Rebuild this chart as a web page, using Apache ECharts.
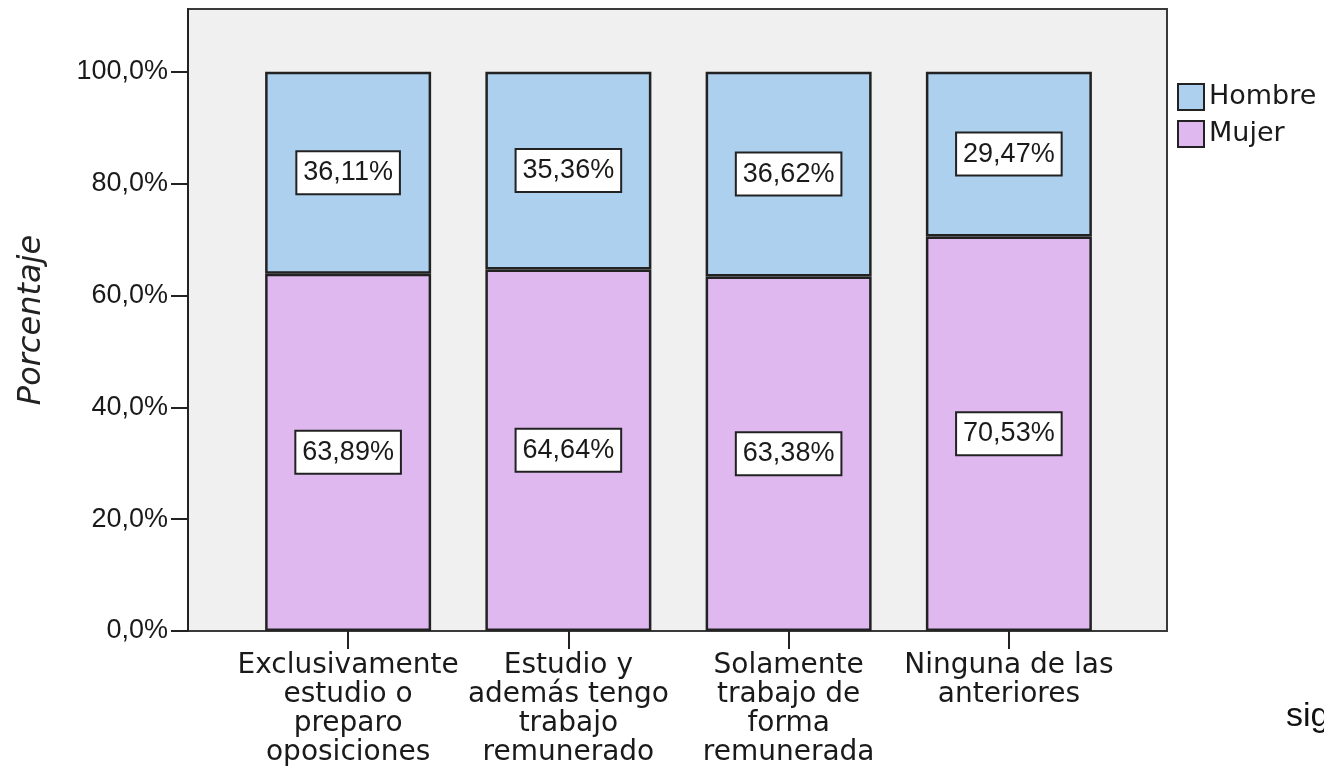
<!DOCTYPE html>
<html>
<head>
<meta charset="utf-8">
<script src="https://cdn.jsdelivr.net/npm/echarts@6/dist/echarts.min.js"></script>
<style>
  html, body { margin: 0; padding: 0; background: #fff; }
  #chart { width: 1324px; height: 774px; }
</style>
</head>
<body>
<div id="chart"></div>
<script>
// categories and series values
const categories = [
  'Exclusivamente\nestudio o\npreparo\noposiciones',
  'Estudio y\nademás tengo\ntrabajo\nremunerado',
  'Solamente\ntrabajo de\nforma\nremunerada',
  'Ninguna de las\nanteriores'
];
const mujer = [63.89, 64.64, 63.38, 70.53];
const hombre = [36.11, 35.36, 36.62, 29.47];
const yTicks = [0, 20, 40, 60, 80, 100];

const numFont = 'Liberation Sans';
const wordFont = 'DejaVu Sans';
const ink = '#1a1a1a';

const pct2 = v => v.toFixed(2).replace('.', ',') + '%';
const pct1 = v => v.toFixed(1).replace('.', ',') + '%';

const segLabel = {
  show: true,
  position: 'inside',
  formatter: p => pct2(p.value),
  fontFamily: numFont,
  fontSize: 27,
  color: ink,
  backgroundColor: '#fff',
  borderColor: '#222',
  borderWidth: 2,
  padding: [6, 6, 5, 6],
  lineHeight: 30
};

const chart = echarts.init(document.getElementById('chart'));
chart.setOption({
  animation: false,
  textStyle: { fontFamily: wordFont, color: ink },
  legend: {
    data: ['Hombre', 'Mujer'],
    orient: 'vertical',
    left: 1172,
    top: 78,
    itemWidth: 26,
    itemHeight: 26,
    itemGap: 9,
    icon: 'rect',
    textStyle: { fontFamily: wordFont, fontSize: 27, color: ink, padding: [0, 0, 0, 0] }
  },
  grid: [
    {
      left: 188, right: 157, top: 9, bottom: 143,
      show: true, backgroundColor: '#f0f0f0',
      borderColor: '#3a3a3a', borderWidth: 2
    },
    { left: 238, right: 205, top: 9, bottom: 143 }
  ],
  xAxis: [
    { gridIndex: 0, type: 'value', show: false, min: 0, max: 1 },
    {
      gridIndex: 1,
      type: 'category',
      data: categories,
      axisLine: { show: false },
      axisTick: { show: true, alignWithLabel: true, length: 18, lineStyle: { color: '#222', width: 2 } },
      axisLabel: {
        interval: 0,
        margin: 20,
        fontFamily: wordFont,
        fontSize: 28,
        lineHeight: 29,
        color: ink,
        align: 'center'
      }
    }
  ],
  yAxis: [
    {
      gridIndex: 0,
      type: 'value',
      min: 0,
      max: 111.2,
      name: 'Porcentaje',
      nameLocation: 'middle',
      nameRotate: 90,
      nameGap: 140,
      nameTextStyle: { fontFamily: wordFont, fontStyle: 'italic', fontSize: 32, color: '#222' },
      axisLine: { show: true, lineStyle: { color: '#222', width: 2 } },
      axisTick: { show: true, length: 17, customValues: yTicks, lineStyle: { color: '#222', width: 2 } },
      axisLabel: {
        customValues: yTicks,
        formatter: v => pct1(v),
        margin: 20,
        fontFamily: numFont,
        fontSize: 27,
        color: ink
      },
      splitLine: { show: false }
    },
    { gridIndex: 1, type: 'value', min: 0, max: 111.2, show: false, splitLine: { show: false } }
  ],
  series: [
    {
      name: 'Mujer',
      type: 'bar',
      stack: 'sexo',
      xAxisIndex: 1,
      yAxisIndex: 1,
      barWidth: 166,
      data: mujer,
      itemStyle: { color: '#dfb8f0', borderColor: '#222', borderWidth: 2.5 },
      label: segLabel
    },
    {
      name: 'Hombre',
      type: 'bar',
      stack: 'sexo',
      xAxisIndex: 1,
      yAxisIndex: 1,
      barWidth: 166,
      data: hombre,
      itemStyle: { color: '#acd0ee', borderColor: '#222', borderWidth: 2.5 },
      label: segLabel
    }
  ],
  graphic: [
    {
      type: 'text',
      left: 1286,
      top: 700,
      style: { text: 'sig', fontFamily: numFont, fontSize: 34, fill: '#111' }
    }
  ]
});
</script>
</body>
</html>
